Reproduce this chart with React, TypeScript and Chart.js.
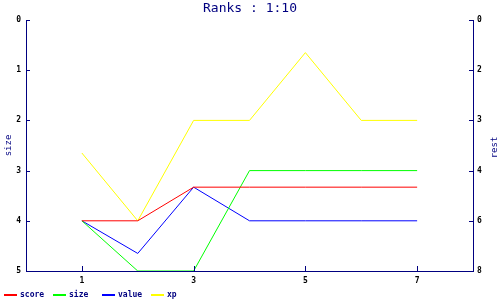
import React, { useEffect, useRef } from "react";
import { Chart, registerables } from "chart.js";

Chart.register(...registerables);

const titleText = "Ranks : 1:10";
const xValues = [1, 2, 3, 4, 5, 6, 7];
const xTickValues = [1, 3, 5, 7];
const rightTickLabels = ["0", "2", "3", "4", "6", "8"];
const seriesNames = ["score", "size", "value", "xp"];
const seriesColors = ["#ff0000", "#00ff00", "#0000ff", "#ffff00"];
const scoreValues = [4, 4, 3.33, 3.33, 3.33, 3.33, 3.33];
const sizeValues = [4, 5, 5, 3, 3, 3, 3];
const valueValues = [4, 4.65, 3.33, 4, 4, 4, 4];
const xpValues = [2.65, 4, 2, 2, 0.65, 2, 2];
const leftAxisTitle = "size";
const rightAxisTitle = "rest";

const NAVY = "#000080";
const MONO = "'DejaVu Sans Mono', 'Liberation Mono', monospace";

const tickMarksPlugin = {
  id: "tickMarks",
  afterDraw(chart: any) {
    const ctx = chart.ctx;
    const { left, right, top, bottom } = chart.chartArea;
    ctx.save();
    ctx.strokeStyle = NAVY;
    ctx.lineWidth = 1;
    const y = chart.scales.y;
    y.ticks.forEach((t: any) => {
      const py = Math.round(y.getPixelForValue(t.value)) + 0.5;
      ctx.beginPath();
      ctx.moveTo(left, py);
      ctx.lineTo(left + 4, py);
      ctx.stroke();
    });
    const y2 = chart.scales.y2;
    y2.ticks.forEach((t: any) => {
      const py = Math.round(y2.getPixelForValue(t.value)) + 0.5;
      ctx.beginPath();
      ctx.moveTo(right, py);
      ctx.lineTo(right - 4, py);
      ctx.stroke();
    });
    const x = chart.scales.x;
    x.ticks.forEach((t: any) => {
      const px = Math.round(x.getPixelForValue(t.value)) + 0.5;
      ctx.beginPath();
      ctx.moveTo(px, bottom);
      ctx.lineTo(px, bottom - 5);
      ctx.stroke();
    });
    // right axis title, reading bottom to top
    ctx.fillStyle = NAVY;
    ctx.font = "9px " + MONO;
    ctx.textAlign = "center";
    ctx.textBaseline = "middle";
    ctx.translate(495, (top + bottom) / 2 + 2);
    ctx.rotate(-Math.PI / 2);
    ctx.fillText(rightAxisTitle, 0, 0);
    ctx.restore();
  },
};

const customLegendPlugin = {
  id: "customLegend",
  afterDraw(chart: any) {
    const ctx = chart.ctx;
    ctx.save();
    ctx.font = "bold 8px " + MONO;
    ctx.textBaseline = "middle";
    ctx.textAlign = "left";
    chart.data.datasets.forEach((ds: any, i: number) => {
      const x0 = 4 + i * 49;
      const yy = 295;
      ctx.fillStyle = ds.borderColor;
      ctx.fillRect(x0, yy - 1, 13, 2);
      ctx.fillStyle = NAVY;
      ctx.fillText(ds.label, x0 + 16, yy);
    });
    ctx.restore();
  },
};

export default function App() {
  const ref = useRef<HTMLCanvasElement | null>(null);
  useEffect(() => {
    document.body.style.margin = "0";
    const seriesData = [scoreValues, sizeValues, valueValues, xpValues];
    const chart = new Chart(ref.current as HTMLCanvasElement, {
      type: "line",
      data: {
        datasets: seriesNames.map((name, i) => ({
          label: name,
          data: xValues.map((xv, j) => ({ x: xv, y: seriesData[i][j] })),
          borderColor: seriesColors[i],
          backgroundColor: seriesColors[i],
          borderWidth: 1,
          pointRadius: 0,
          tension: 0,
          yAxisID: "y",
        })),
      },
      options: {
        responsive: false,
        animation: false,
        layout: { padding: 0 },
        plugins: {
          legend: { display: false },
          tooltip: { enabled: false },
          title: {
            display: true,
            text: titleText,
            color: NAVY,
            font: { family: MONO, size: 13, weight: "normal", lineHeight: 1.2 },
            padding: { top: 1, bottom: 3.4 },
          },
        },
        scales: {
          x: {
            type: "linear",
            min: 0,
            max: 8,
            afterBuildTicks: (scale: any) => {
              scale.ticks = xTickValues.map((v) => ({ value: v }));
            },
            afterFit: (scale: any) => {
              scale.height = 29;
            },
            grid: { display: false, drawTicks: false },
            border: { display: true, color: NAVY, width: 1 },
            ticks: {
              color: "#000",
              font: { family: MONO, size: 8, weight: "bold" },
              padding: 5,
              maxRotation: 0,
              callback: (v: any) => String(v),
            },
          },
          y: {
            type: "linear",
            position: "left",
            reverse: true,
            min: 0,
            max: 5,
            afterFit: (scale: any) => {
              scale.width = 26;
            },
            grid: { display: false, drawTicks: false },
            border: { display: true, color: NAVY, width: 1 },
            ticks: {
              stepSize: 1,
              color: "#000",
              font: { family: MONO, size: 8, weight: "bold" },
              padding: 5,
            },
            title: {
              display: true,
              text: leftAxisTitle,
              color: NAVY,
              font: { family: MONO, size: 9 },
              padding: { top: 3, bottom: 0 },
            },
          },
          y2: {
            type: "linear",
            position: "right",
            reverse: true,
            min: 0,
            max: 5,
            afterFit: (scale: any) => {
              scale.width = 27;
            },
            grid: { display: false, drawTicks: false },
            border: { display: true, color: NAVY, width: 1 },
            ticks: {
              stepSize: 1,
              color: "#000",
              font: { family: MONO, size: 8, weight: "bold" },
              padding: 4,
              callback: (v: any) => rightTickLabels[Math.round(Number(v))],
            },
            title: { display: false },
          },
        },
      },
      plugins: [tickMarksPlugin, customLegendPlugin],
    } as any);
    return () => chart.destroy();
  }, []);
  return <canvas ref={ref} width={500} height={300} style={{ display: "block" }} />;
}
